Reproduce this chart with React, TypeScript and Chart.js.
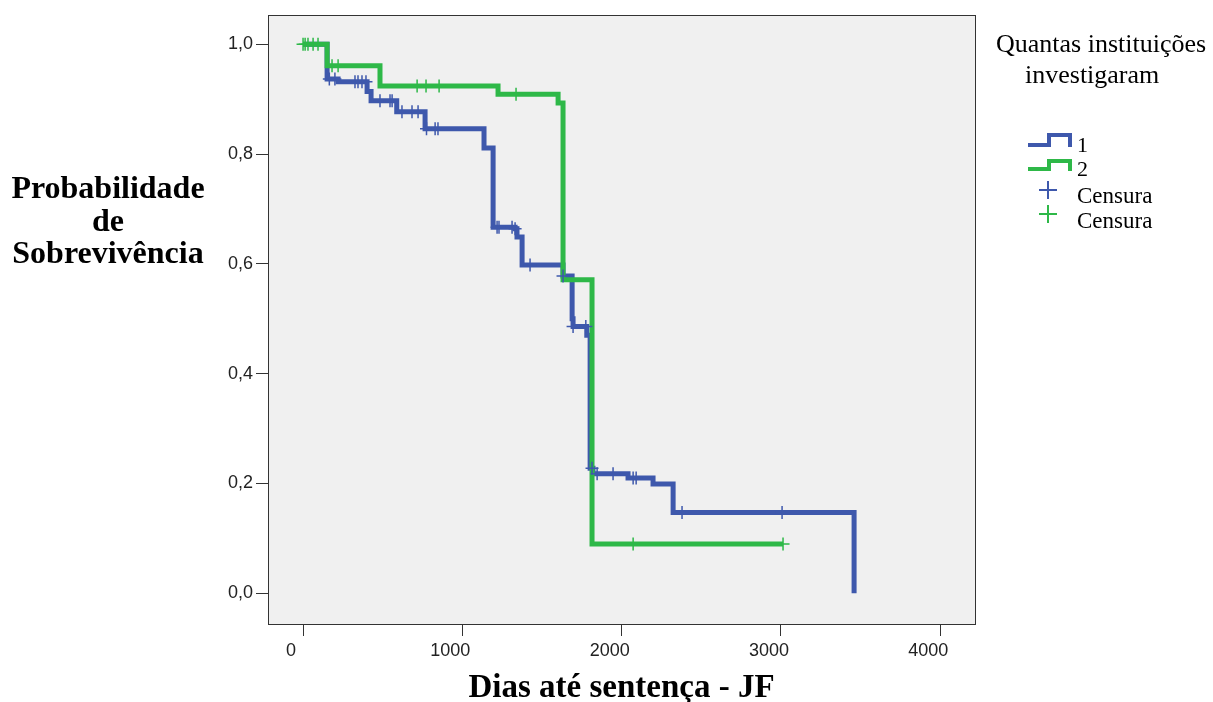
import React, { useEffect, useRef } from 'react';
import { Chart, registerables } from 'chart.js';

Chart.register(...registerables);

const BLUE = '#3e58ac';
const GREEN = '#2eb848';

// Group 1 (blue) Kaplan-Meier steps
const group1Times = [0, 151, 220, 402, 427, 588, 766, 1136, 1193, 1331, 1343, 1375, 1632, 1689, 1695, 1781, 1802, 1820, 2040, 2197, 2323, 3459];
const group1Surv = [1.0, 0.937, 0.932, 0.914, 0.897, 0.877, 0.846, 0.811, 0.667, 0.664, 0.649, 0.598, 0.578, 0.5, 0.486, 0.47, 0.228, 0.218, 0.21, 0.199, 0.147, 0.0];

// Group 2 (green) Kaplan-Meier steps
const group2Times = [0, 151, 483, 1224, 1601, 1632, 1814, 3013];
const group2Surv = [1.0, 0.961, 0.924, 0.909, 0.893, 0.571, 0.09, 0.09];

// Censored observations
const censor1Times = [165, 200, 326, 345, 370, 395, 483, 546, 559, 621, 684, 722, 775, 829, 847, 1218, 1230, 1312, 1331, 1425, 1632, 1695, 1775, 1814, 1846, 1946, 2072, 2091, 2379, 3007];
const censor1Surv = [0.937, 0.937, 0.932, 0.932, 0.932, 0.932, 0.897, 0.897, 0.897, 0.877, 0.877, 0.877, 0.846, 0.846, 0.846, 0.667, 0.667, 0.667, 0.664, 0.598, 0.578, 0.486, 0.486, 0.228, 0.218, 0.218, 0.21, 0.21, 0.147, 0.147];

const censor2Times = [0, 13, 31, 63, 94, 182, 220, 716, 772, 854, 1337, 2072, 3013];
const censor2Surv = [1.0, 1.0, 1.0, 1.0, 1.0, 0.961, 0.961, 0.924, 0.924, 0.924, 0.909, 0.09, 0.09];

const xTickValues = [0, 1000, 2000, 3000, 4000];
const yTickValues = [0, 0.2, 0.4, 0.6, 0.8, 1.0];

const legendTitle = ['Quantas instituições', 'investigaram'];
const groupLabels = ['1', '2'];
const censorLabel = 'Censura';
const yTitleLines = ['Probabilidade', 'de', 'Sobrevivência'];
const xTitle = 'Dias até sentença - JF';

const toXY = (xs: number[], ys: number[]) => xs.map((x, i) => ({ x, y: ys[i] }));

export default function App() {
  const ref = useRef<HTMLCanvasElement>(null);

  useEffect(() => {
    if (!ref.current) return;

    const framePlugin = {
      id: 'frameAndLegend',
      beforeDatasetsDraw(chart: any) {
        const { ctx, chartArea: a } = chart;
        ctx.save();
        ctx.fillStyle = '#f0f0f0';
        ctx.fillRect(a.left, a.top, a.right - a.left, a.bottom - a.top);
        ctx.strokeStyle = '#333333';
        ctx.lineWidth = 1;
        ctx.strokeRect(Math.round(a.left) + 0.5, Math.round(a.top) + 0.5, Math.round(a.right - a.left), Math.round(a.bottom - a.top));
        ctx.restore();
      },
      afterDraw(chart: any) {
        const { ctx } = chart;
        ctx.save();
        // Y title
        ctx.fillStyle = '#000';
        ctx.textAlign = 'center';
        ctx.textBaseline = 'alphabetic';
        ctx.font = 'bold 32px "Liberation Serif"';
        const yBases = [198, 231, 263];
        yTitleLines.forEach((t, i) => ctx.fillText(t, 108, yBases[i]));

        // Legend title
        ctx.textAlign = 'left';
        ctx.font = '26px "Liberation Serif"';
        ctx.fillText(legendTitle[0], 996, 52);
        ctx.fillText(legendTitle[1], 1025, 83);

        // Step icons
        ctx.lineWidth = 4;
        ctx.lineJoin = 'miter';
        ctx.lineCap = 'butt';
        ctx.strokeStyle = BLUE;
        ctx.beginPath();
        ctx.moveTo(1028, 145);
        ctx.lineTo(1049, 145);
        ctx.lineTo(1049, 135);
        ctx.lineTo(1070, 135);
        ctx.lineTo(1070, 147);
        ctx.stroke();
        ctx.strokeStyle = GREEN;
        ctx.beginPath();
        ctx.moveTo(1028, 169);
        ctx.lineTo(1049, 169);
        ctx.lineTo(1049, 161);
        ctx.lineTo(1070, 161);
        ctx.lineTo(1070, 171);
        ctx.stroke();

        ctx.font = '22px "Liberation Serif"';
        ctx.fillStyle = '#000';
        ctx.fillText(groupLabels[0], 1077, 152);
        ctx.fillText(groupLabels[1], 1077, 176);

        // Plus markers
        ctx.lineWidth = 2;
        const plus = (cx: number, cy: number, color: string) => {
          ctx.strokeStyle = color;
          ctx.beginPath();
          ctx.moveTo(cx - 9, cy);
          ctx.lineTo(cx + 9, cy);
          ctx.moveTo(cx, cy - 9);
          ctx.lineTo(cx, cy + 9);
          ctx.stroke();
        };
        plus(1048, 190, BLUE);
        plus(1048, 214, GREEN);
        ctx.font = '23px "Liberation Serif"';
        ctx.fillStyle = '#000';
        ctx.fillText(censorLabel, 1077, 203);
        ctx.fillText(censorLabel, 1077, 228);
        ctx.restore();
      },
    };

    const chart = new Chart(ref.current, {
      type: 'line',
      data: {
        datasets: [
          {
            label: '1',
            data: toXY(group1Times, group1Surv),
            borderColor: BLUE,
            backgroundColor: BLUE,
            borderWidth: 5,
            stepped: 'before',
            pointRadius: 0,
            fill: false,
            borderCapStyle: 'butt',
            borderJoinStyle: 'miter',
            order: 4,
          },
          {
            label: '2',
            data: toXY(group2Times, group2Surv),
            borderColor: GREEN,
            backgroundColor: GREEN,
            borderWidth: 5,
            stepped: 'before',
            pointRadius: 0,
            fill: false,
            borderCapStyle: 'butt',
            borderJoinStyle: 'miter',
            order: 3,
          },
          {
            label: 'Censura 1',
            data: toXY(censor1Times, censor1Surv),
            showLine: false,
            pointStyle: 'cross',
            pointRadius: 6.5,
            pointBorderWidth: 1.5,
            pointBorderColor: BLUE,
            pointBackgroundColor: BLUE,
            borderColor: BLUE,
            order: 2,
          },
          {
            label: 'Censura 2',
            data: toXY(censor2Times, censor2Surv),
            showLine: false,
            pointStyle: 'cross',
            pointRadius: 6.5,
            pointBorderWidth: 1.5,
            pointBorderColor: GREEN,
            pointBackgroundColor: GREEN,
            borderColor: GREEN,
            order: 1,
          },
        ] as any,
      },
      options: {
        animation: false,
        responsive: false,
        devicePixelRatio: 1,
        layout: { padding: { left: 0, right: 238, top: 15, bottom: 0 } },
        plugins: {
          legend: { display: false },
          tooltip: { enabled: false },
          title: { display: false },
        },
        scales: {
          x: {
            type: 'linear',
            min: -220,
            max: 4218,
            afterFit: (s: any) => { s.height = 78; },
            afterBuildTicks: (s: any) => { s.ticks = xTickValues.map((v) => ({ value: v })); },
            border: { display: false },
            grid: { drawOnChartArea: false, drawTicks: true, tickLength: 12, color: '#333333', lineWidth: 1 },
            ticks: {
              autoSkip: false,
              maxRotation: 0,
              labelOffset: -12,
              padding: 4,
              color: '#222222',
              font: { family: '"Liberation Sans", Arial, sans-serif', size: 18 },
              callback: (v: any) => String(v),
            },
            title: {
              display: true,
              text: xTitle,
              color: '#000',
              font: { family: '"Liberation Serif", "Times New Roman", serif', size: 33, weight: 'bold', lineHeight: 0.85 },
              padding: { top: 0, bottom: 0 },
            },
          },
          y: {
            type: 'linear',
            min: -0.0559,
            max: 1.0534,
            afterFit: (s: any) => { s.width = 268; },
            afterBuildTicks: (s: any) => { s.ticks = yTickValues.map((v) => ({ value: v })); },
            border: { display: false },
            grid: { drawOnChartArea: false, drawTicks: true, tickLength: 12, color: '#333333', lineWidth: 1 },
            ticks: {
              autoSkip: false,
              padding: 3,
              color: '#222222',
              font: { family: '"Liberation Sans", Arial, sans-serif', size: 18 },
              callback: (v: any) => Number(v).toFixed(1).replace('.', ','),
            },
          },
        },
      } as any,
      plugins: [framePlugin],
    });

    return () => chart.destroy();
  }, []);

  return (
    <div style={{ position: 'fixed', left: 0, top: 0, width: 1213, height: 702, background: '#ffffff' }}>
      <canvas ref={ref} width={1213} height={702} style={{ display: 'block' }} />
    </div>
  );
}
